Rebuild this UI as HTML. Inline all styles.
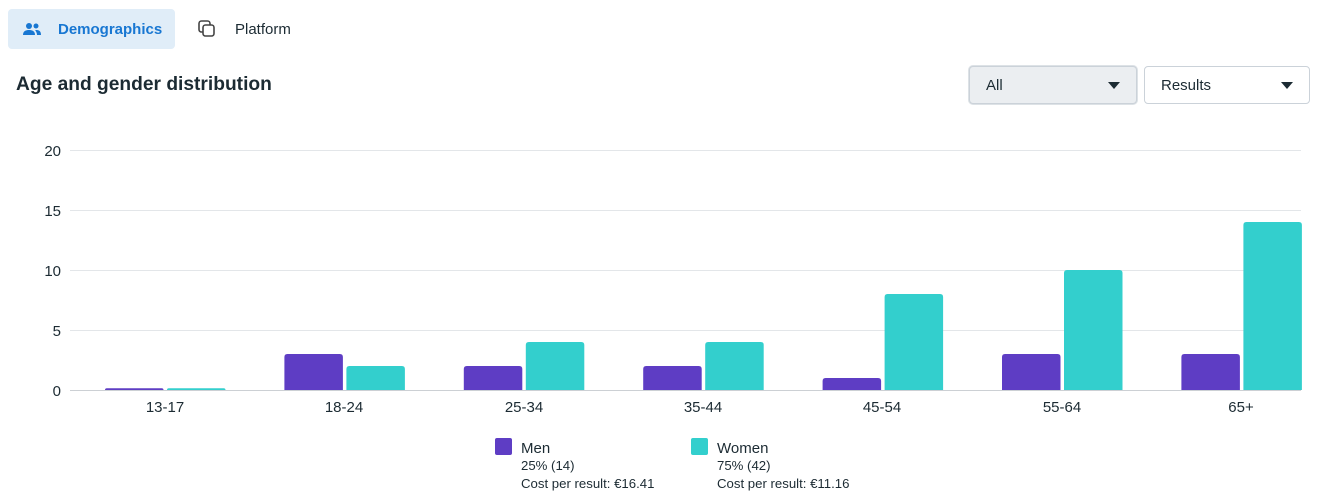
<!DOCTYPE html>
<html><head><meta charset="utf-8"><style>
body{margin:0;width:1321px;height:504px;background:#fff;font-family:"Liberation Sans",sans-serif;overflow:hidden;position:relative;color:#1c2b33}
.tab{position:absolute;top:9px;height:40px;display:flex;align-items:center;font-size:15px}
.sel{position:absolute;top:66px;height:38px;border:1px solid #cbd2d9;border-radius:4px;box-sizing:border-box;font-size:15px;display:flex;align-items:center;padding:0 16px;justify-content:space-between}
.caret{width:0;height:0;border-left:6px solid transparent;border-right:6px solid transparent;border-top:7px solid #1c2b33}
</style></head><body>
<div class="tab" style="left:8px;width:167px;background:#e0edf8;border-radius:4px;color:#1877d2;font-weight:bold">
<svg width="20" height="16" style="margin-left:14px" viewBox="0 0 20 16"><circle cx="7" cy="5" r="3" fill="#1877d2"/><circle cx="14" cy="5" r="2.5" fill="#1877d2"/><path d="M1 14c0-4 3-5 6-5s6 1 6 5z" fill="#1877d2"/><path d="M14 9c3 0 5 1 5 5h-4c0-2-1-4-2-4.5z" fill="#1877d2"/></svg>
<span style="margin-left:16px">Demographics</span></div>
<div class="tab" style="left:196px;color:#1c2b33">
<svg width="22" height="22" viewBox="0 0 22 22"><rect x="3" y="3" width="11" height="11" rx="2.5" fill="none" stroke="#444" stroke-width="1.6"/><rect x="7" y="7" width="11" height="11" rx="2.5" fill="#fff" stroke="#444" stroke-width="1.6"/></svg>
<span style="margin-left:17px">Platform</span></div>
<div style="position:absolute;left:16px;top:74px;font-size:19.2px;font-weight:bold">Age and gender distribution</div>
<div class="sel" style="left:969px;width:168px;background:#ebeef1;box-shadow:0 0 0 1px #dde2e6"><span>All</span><span class="caret"></span></div>
<div class="sel" style="left:1144px;width:166px"><span>Results</span><span class="caret"></span></div>
<svg width="1321" height="504" style="position:absolute;left:0;top:0" font-family="Liberation Sans, sans-serif">
<g stroke="#e3e6e9" stroke-width="1">
<line x1="70" x2="1301" y1="150.5" y2="150.5"/><line x1="70" x2="1301" y1="210.5" y2="210.5"/><line x1="70" x2="1301" y1="270.5" y2="270.5"/><line x1="70" x2="1301" y1="330.5" y2="330.5"/><line x1="70" x2="1301" y1="390.5" y2="390.5" stroke="#ccd0d4"/>
</g>
<g font-size="15" fill="#1c2b33" text-anchor="end">
<text x="61" y="156">20</text><text x="61" y="216">15</text><text x="61" y="276">10</text><text x="61" y="336">5</text><text x="61" y="396">0</text>
</g>
<g id="bars"></g>
<g font-size="15" fill="#1c2b33" text-anchor="middle">
<text x="165" y="412">13-17</text><text x="344" y="412">18-24</text><text x="524" y="412">25-34</text><text x="703" y="412">35-44</text><text x="882" y="412">45-54</text><text x="1062" y="412">55-64</text><text x="1241" y="412">65+</text>
</g>
<rect x="495" y="438" width="17" height="17" rx="2" fill="#5e3dc4"/>
<rect x="691" y="438" width="17" height="17" rx="2" fill="#33cfcd"/>
<g fill="#1c2b33">
<text x="521" y="453" font-size="15">Men</text><text x="521" y="470" font-size="13.2">25% (14)</text><text x="521" y="488" font-size="13.2">Cost per result: €16.41</text>
<text x="717" y="453" font-size="15">Women</text><text x="717" y="470" font-size="13.2">75% (42)</text><text x="717" y="488" font-size="13.2">Cost per result: €11.16</text>
</g>
</svg>
<script>
var m=[0.15,3,2,2,1,3,3],w=[0.15,2,4,4,8,10,14],g=document.getElementById('bars'),s='';
function bar(x,h,c){var y=390-h,r=Math.min(3,h);return '<path d="M'+x+' 390V'+(y+r)+'Q'+x+' '+y+' '+(x+r)+' '+y+'H'+(x+58.5-r)+'Q'+(x+58.5)+' '+y+' '+(x+58.5)+' '+(y+r)+'V390Z" fill="'+c+'"/>';}
for(var i=0;i<7;i++){var c=165+179.4*i;s+=bar(c-60,m[i]*12,'#5e3dc4');s+=bar(c+2,w[i]*12,'#33cfcd');}
g.innerHTML=s;
</script>
</body></html>
